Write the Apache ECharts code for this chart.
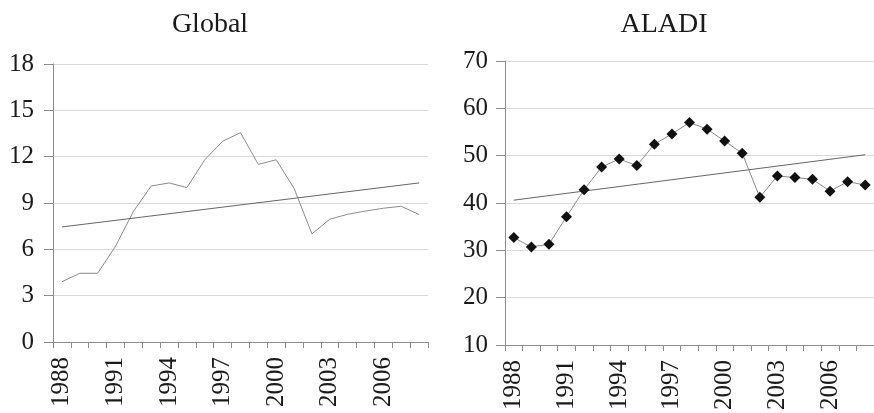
<!DOCTYPE html>
<html>
<head>
<meta charset="utf-8">
<script src="https://cdn.jsdelivr.net/npm/echarts@6/dist/echarts.min.js"></script>
<style>
html,body{margin:0;padding:0;background:#fff;}
#c{width:874px;height:413px;}
</style>
</head>
<body>
<div id="c"></div>
<script>
const years = ['1988','1989','1990','1991','1992','1993','1994','1995','1996','1997','1998','1999','2000','2001','2002','2003','2004','2005','2006','2007','2008'];
const globalValues = [3.9,4.45,4.45,6.2,8.45,10.1,10.3,10.0,11.8,13.0,13.55,11.5,11.8,9.95,7.0,7.95,8.27,8.48,8.66,8.79,8.25];
const globalTrend = [['1988',7.45],['2008',10.3]];
const aladiValues = [32.7,30.7,31.3,37.1,42.8,47.6,49.3,47.9,52.4,54.6,57.0,55.6,53.1,50.5,41.2,45.7,45.4,45.0,42.5,44.5,43.8];
const aladiTrend = [['1988',40.6],['2008',50.2]];
const titles = ['Global','ALADI'];

const font = '"Liberation Serif", "Times New Roman", serif';
const txt = '#1a1a1a';

function xAxis(gi){
  return {
    type:'category', gridIndex:gi, data:years, boundaryGap:true,
    axisLine:{lineStyle:{color:'#8c8c8c',width:1}},
    axisTick:{show:true,interval:0,length:6,lineStyle:{color:'#8c8c8c'}},
    axisLabel:{interval:2,rotate:90,margin:15,fontFamily:font,fontSize:25,color:txt},
    splitLine:{show:false}
  };
}
function yAxis(gi,min,max,interval,margin){
  return {
    type:'value', gridIndex:gi, min:min, max:max, interval:interval,
    axisLine:{show:true,lineStyle:{color:'#8c8c8c',width:1}},
    axisTick:{show:true,length:9,lineStyle:{color:'#8c8c8c'}},
    axisLabel:{margin:margin,fontFamily:font,fontSize:25,color:txt},
    splitLine:{show:true,lineStyle:{color:'#d9d9d9',width:1}}
  };
}

const chart = echarts.init(document.getElementById('c'),null,{renderer:'canvas'});
chart.setOption({
  animation:false,
  backgroundColor:'#fff',
  title:[
    {text:titles[0],left:205,top:6,textAlign:'center',textStyle:{fontFamily:font,fontSize:28,fontWeight:'normal',color:txt}},
    {text:titles[1],left:659,top:6,textAlign:'center',textStyle:{fontFamily:font,fontSize:28,fontWeight:'normal',color:txt}}
  ],
  grid:[
    {left:53,top:64,width:375,height:278},
    {left:505,top:61,width:375,height:293}
  ],
  xAxis:[xAxis(0),xAxis(1)],
  yAxis:[yAxis(0,0,18,3,19),yAxis(1,10,70,10,17)],
  series:[
    {type:'line',xAxisIndex:0,yAxisIndex:0,data:globalValues,symbol:'none',lineStyle:{color:'#8a8a8a',width:1}},
    {type:'line',xAxisIndex:0,yAxisIndex:0,data:globalTrend,symbol:'none',lineStyle:{color:'#666',width:1}},
    {type:'line',xAxisIndex:1,yAxisIndex:1,data:aladiValues,symbol:'diamond',symbolSize:11,itemStyle:{color:'#111'},lineStyle:{color:'#8a8a8a',width:1}},
    {type:'line',xAxisIndex:1,yAxisIndex:1,data:aladiTrend,symbol:'none',lineStyle:{color:'#666',width:1}}
  ]
});
</script>
</body>
</html>
